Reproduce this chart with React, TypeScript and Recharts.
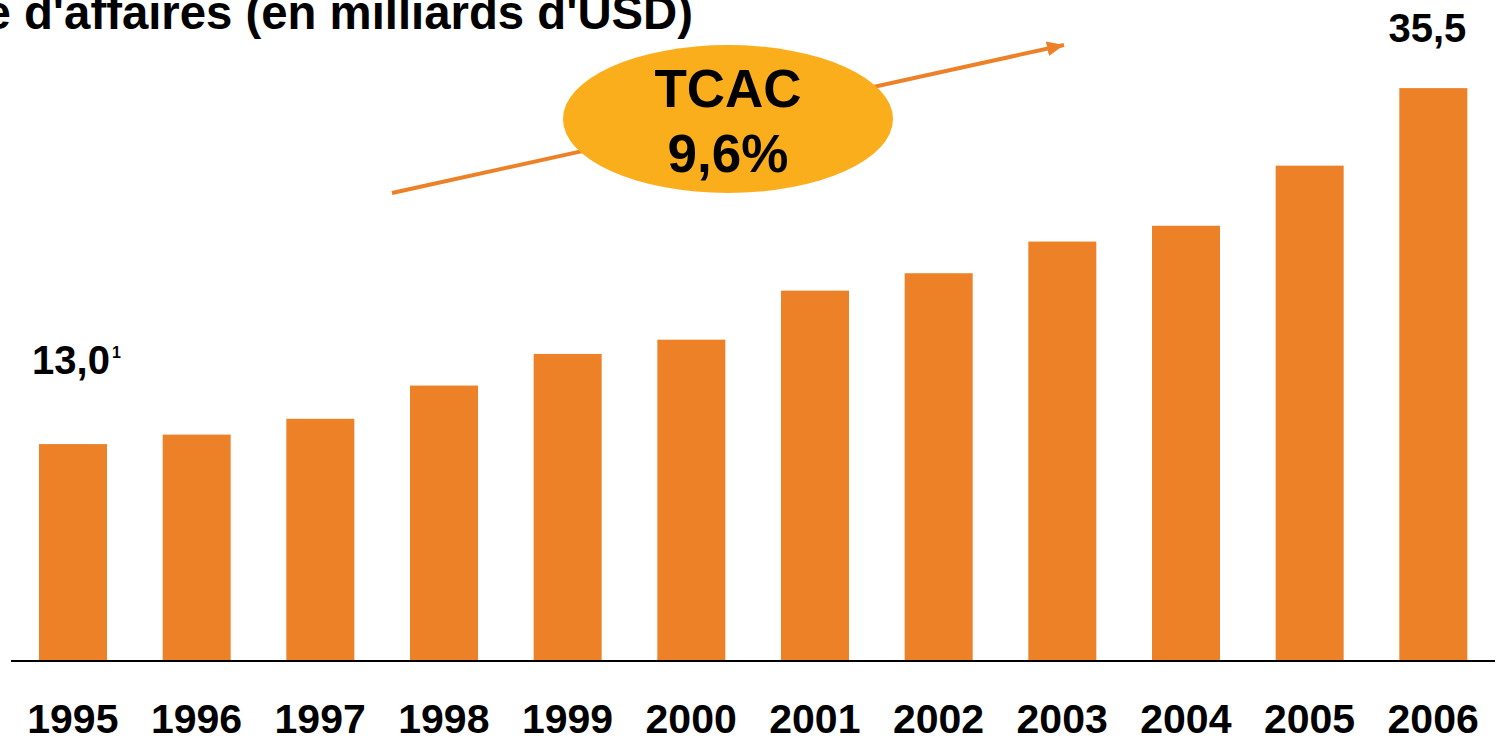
import { BarChart, Bar, XAxis, YAxis, LabelList } from "recharts"

const years = ["1995", "1996", "1997", "1998", "1999", "2000", "2001", "2002", "2003", "2004", "2005", "2006"]
const revenue = [13.0, 13.6, 14.6, 16.7, 18.7, 19.6, 22.7, 23.8, 25.8, 26.8, 30.6, 35.5]
const valueLabels = ["13,0", "", "", "", "", "", "", "", "", "", "", "35,5"]
const labelNotes = ["1", "", "", "", "", "", "", "", "", "", "", ""]

const title = "Chiffre d'affaires (en milliards d'USD)"
const cagrLabel = "TCAC"
const cagrValue = "9,6%"

const BAR_COLOR = "#EC8128"
const BUBBLE_COLOR = "#FBAE1C"
const FONT = "'Liberation Sans', Arial, sans-serif"

const data = years.map((year, i) => ({ year, value: revenue[i], label: valueLabels[i] }))

// bars run down to the axis line, not just to the zero value
function FullBar(props: any) {
  const { x, y, width, height, background } = props
  const bottom = background ? background.y + background.height : y + height
  return <rect x={x} y={y} width={width} height={bottom - y} fill={BAR_COLOR} />
}

function YearTick({ x, y, payload }: any) {
  return (
    <text x={x} y={y + 72} textAnchor="middle" fontFamily={FONT} fontWeight="bold" fontSize={41} fill="#000">
      {payload.value}
    </text>
  )
}

function ValueLabel(props: any) {
  const { x, y, width, value, index } = props
  if (!value) return null
  const first = index === 0
  const cx = x + width / 2 + (first ? -2 : -6)
  const base = y - (first ? 70 : 46)
  const note = labelNotes[index]
  return (
    <g>
      <text x={cx} y={base} textAnchor="middle" fontFamily={FONT} fontWeight="bold" fontSize={40} fill="#000">
        {value}
      </text>
      {note && (
        <text x={cx + 41} y={base - 16} fontFamily={FONT} fontWeight="bold" fontSize={16} fill="#000">
          {note}
        </text>
      )}
    </g>
  )
}

export default function App() {
  return (
    <div style={{ position: "absolute", left: 0, top: 0, width: 1499, height: 739, background: "#fff", overflow: "hidden" }}>
      <BarChart width={1499} height={739} data={data} margin={{ top: 0, right: 4, bottom: 0, left: 11 }}>
        <YAxis hide domain={[-0.71, 41.07]} />
        <XAxis
          dataKey="year"
          height={78}
          interval={0}
          tickLine={false}
          tickSize={0}
          tickMargin={0}
          axisLine={{ stroke: "#000", strokeWidth: 2 }}
          tick={<YearTick />}
        />
        <Bar dataKey="value" barSize={68} fill={BAR_COLOR} shape={<FullBar />} isAnimationActive={false}>
          <LabelList dataKey="label" content={<ValueLabel />} />
        </Bar>
      </BarChart>
      <svg width={1499} height={739} style={{ position: "absolute", left: 0, top: 0, pointerEvents: "none" }}>
        <defs>
          <marker id="head" markerUnits="userSpaceOnUse" markerWidth={17} markerHeight={15} refX={17} refY={7.5} orient="auto">
            <path d="M0,0 L17,7.5 L0,15 z" fill={BAR_COLOR} />
          </marker>
        </defs>
        <text x={693} y={29} textAnchor="end" fontFamily={FONT} fontWeight="bold" fontSize={47.3} fill="#000">
          {title}
        </text>
        <line x1={392} y1={193} x2={1064} y2={45} stroke={BAR_COLOR} strokeWidth={4} markerEnd="url(#head)" />
        <ellipse cx={728} cy={119} rx={165} ry={74} fill={BUBBLE_COLOR} />
        <text x={728} y={107} textAnchor="middle" fontFamily={FONT} fontWeight="bold" fontSize={53} fill="#000">
          {cagrLabel}
        </text>
        <text x={728} y={172} textAnchor="middle" fontFamily={FONT} fontWeight="bold" fontSize={53} fill="#000">
          {cagrValue}
        </text>
      </svg>
    </div>
  )
}
